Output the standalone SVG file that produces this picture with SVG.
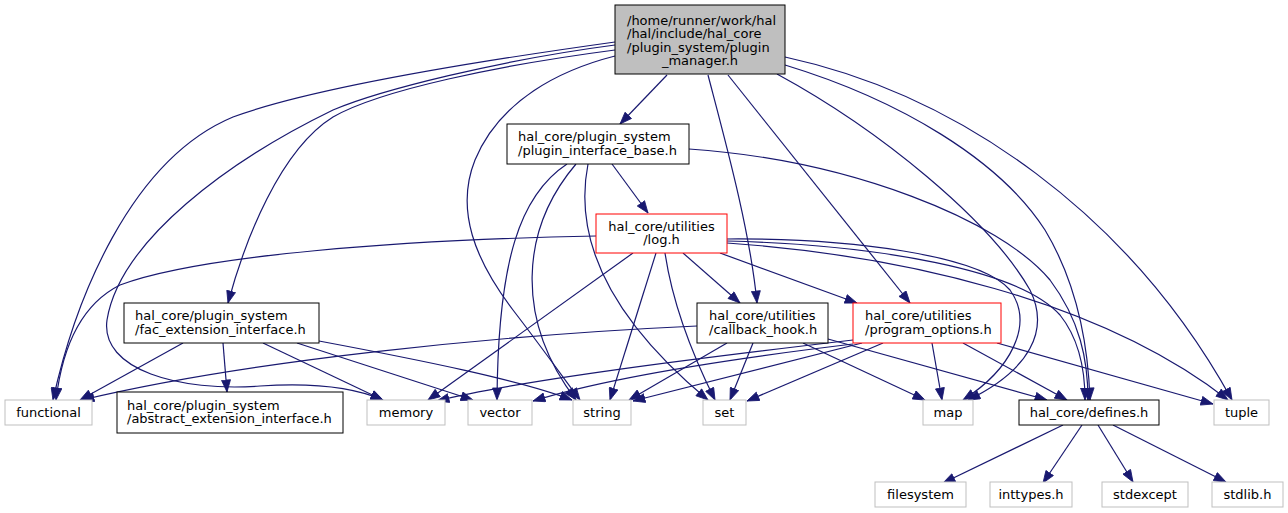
<svg xmlns="http://www.w3.org/2000/svg" width="1288" height="513" viewBox="0 0 1288 513">
<style>
text{font-family:"DejaVu Sans","Liberation Sans",sans-serif;font-size:13px;fill:#000}
.c{text-anchor:middle}
.n rect{fill:#fff;stroke:#000;stroke-width:1}
.ext rect{stroke:#bfbfbf}
.red rect{stroke:#ff0000}
.main rect{fill:#bfbfbf;stroke:#000}
#edges path{fill:none;stroke:#191970;stroke-width:1.2;marker-end:url(#ah)}
</style>
<defs>
<marker id="ah" markerWidth="13" markerHeight="10" refX="12.5" refY="5" orient="auto" markerUnits="userSpaceOnUse"><path d="M0.5,0.5 L12.5,5 L0.5,9.5 Z" fill="#191970" stroke="#191970" stroke-width="0.8"/></marker>
</defs>
<rect width="1288" height="513" fill="#fff"/>
<g id="edges">
<!-- main -->
<path d="M615,42 C500,58 320,85 233,117 C130,160 75,300 53,400"/>
<path d="M615,45 C500,60 380,90 333,110 C230,160 120,240 107,320 C100,370 180,392 260,386 C320,382 360,390 383,400"/>
<path d="M615,50 C500,65 380,90 333,117 C280,150 245,240 228,303"/>
<path d="M615,56 C560,70 500,100 475,160 C455,210 475,260 513,310 C540,345 565,380 580,400"/>
<path d="M667,75 L620,124"/>
<path d="M708,75 C725,140 750,230 757,303"/>
<path d="M728,75 L910,303"/>
<path d="M777,74 C880,130 990,220 1030,290 C1050,330 1030,370 968,400"/>
<path d="M785,65 C900,100 1000,160 1045,230 C1075,280 1088,340 1090,400"/>
<path d="M785,57 C960,95 1130,215 1232,400"/>
<!-- plugin_interface_base -->
<path d="M612,164 L648,213"/>
<path d="M567,164 C520,195 498,260 497,400"/>
<path d="M576,164 C520,230 515,320 576,400"/>
<path d="M588,164 C575,230 600,310 708,400"/>
<path d="M689,149 C850,160 1000,220 1050,280 C1080,320 1088,360 1088,400"/>
<!-- log -->
<path d="M596,236 C400,240 200,255 120,285 C80,305 62,350 56,400"/>
<path d="M633,253 L428,400"/>
<path d="M656,253 L610,400"/>
<path d="M665,253 C672,300 690,350 715,400"/>
<path d="M683,253 L740,303"/>
<path d="M720,253 L857,303"/>
<path d="M727,239 C850,238 980,255 1010,290 C1035,325 1010,370 963,400"/>
<path d="M727,241 C880,245 1020,270 1060,315 C1080,340 1085,370 1085,400"/>
<path d="M727,243 C900,255 1100,300 1228,400"/>
<!-- fac -->
<path d="M183,343 L80,400"/>
<path d="M223,343 L227,392"/>
<path d="M263,343 L383,400"/>
<path d="M297,343 L473,400"/>
<path d="M319,341 C420,360 520,380 572,400"/>
<!-- callback -->
<path d="M697,326 C500,335 250,360 82,400"/>
<path d="M727,343 L629,400"/>
<path d="M753,343 L730,400"/>
<path d="M803,343 L925,400"/>
<path d="M828,339 L1047,400"/>
<!-- program_options -->
<path d="M853,340 C700,358 520,380 437,401"/>
<path d="M853,344 C720,360 600,380 533,401"/>
<path d="M862,343 L633,401"/>
<path d="M883,343 L747,401"/>
<path d="M932,343 L942,400"/>
<path d="M963,343 L1067,400"/>
<path d="M997,343 L1213,404"/>
<!-- defines -->
<path d="M1063,425 L943,483"/>
<path d="M1082,425 L1043,483"/>
<path d="M1098,425 L1133,482"/>
<path d="M1113,425 L1226,482"/>
</g>
<g id="node-main" class="n main"><rect x="615" y="5" width="170" height="69"/>
<text x="627" y="24.5">/home/runner/work/hal</text><text x="627" y="38">/hal/include/hal_core</text><text x="627" y="51.5">/plugin_system/plugin</text><text x="700" y="65" class="c">_manager.h</text></g>
<g id="node-plugin_interface_base" class="n"><rect x="507" y="124" width="182" height="40"/>
<text x="518" y="141">hal_core/plugin_system</text><text x="518" y="154.5">/plugin_interface_base.h</text></g>
<g id="node-log" class="n red"><rect x="596" y="214" width="131" height="39"/>
<text x="661.5" y="230.5" class="c">hal_core/utilities</text><text x="661.5" y="244" class="c">/log.h</text></g>
<g id="node-fac_extension_interface" class="n"><rect x="124" y="303" width="195" height="40"/>
<text x="135" y="320">hal_core/plugin_system</text><text x="135" y="333.5">/fac_extension_interface.h</text></g>
<g id="node-callback_hook" class="n"><rect x="697" y="303" width="131" height="40"/>
<text x="709" y="320">hal_core/utilities</text><text x="709" y="333.5">/callback_hook.h</text></g>
<g id="node-program_options" class="n red"><rect x="853" y="303" width="148" height="40"/>
<text x="865" y="320">hal_core/utilities</text><text x="865" y="333.5">/program_options.h</text></g>
<g id="node-abstract_extension_interface" class="n"><rect x="117" y="392" width="226" height="41"/>
<text x="127" y="409.5">hal_core/plugin_system</text><text x="127" y="423">/abstract_extension_interface.h</text></g>
<g id="node-functional" class="n ext"><rect x="5" y="400" width="87" height="25"/><text x="48.5" y="417" class="c">functional</text></g>
<g id="node-memory" class="n ext"><rect x="367" y="400" width="78" height="25"/><text x="406" y="417" class="c">memory</text></g>
<g id="node-vector" class="n ext"><rect x="468" y="400" width="64" height="25"/><text x="500" y="417" class="c">vector</text></g>
<g id="node-string" class="n ext"><rect x="573" y="400" width="58" height="25"/><text x="602" y="417" class="c">string</text></g>
<g id="node-set" class="n ext"><rect x="703" y="400" width="43" height="25"/><text x="724.5" y="417" class="c">set</text></g>
<g id="node-map" class="n ext"><rect x="923" y="400" width="50" height="25"/><text x="948" y="417" class="c">map</text></g>
<g id="node-defines" class="n"><rect x="1019" y="400" width="140" height="25"/><text x="1089" y="417" class="c">hal_core/defines.h</text></g>
<g id="node-tuple" class="n ext"><rect x="1214" y="400" width="55" height="25"/><text x="1241.5" y="417" class="c">tuple</text></g>
<g id="node-filesystem" class="n ext"><rect x="875" y="482" width="91" height="25"/><text x="920.5" y="499" class="c">filesystem</text></g>
<g id="node-inttypes" class="n ext"><rect x="990" y="482" width="82" height="25"/><text x="1031" y="499" class="c">inttypes.h</text></g>
<g id="node-stdexcept" class="n ext"><rect x="1102" y="482" width="86" height="25"/><text x="1145" y="499" class="c">stdexcept</text></g>
<g id="node-stdlib" class="n ext"><rect x="1212" y="482" width="71" height="25"/><text x="1247.5" y="499" class="c">stdlib.h</text></g>
</svg>
